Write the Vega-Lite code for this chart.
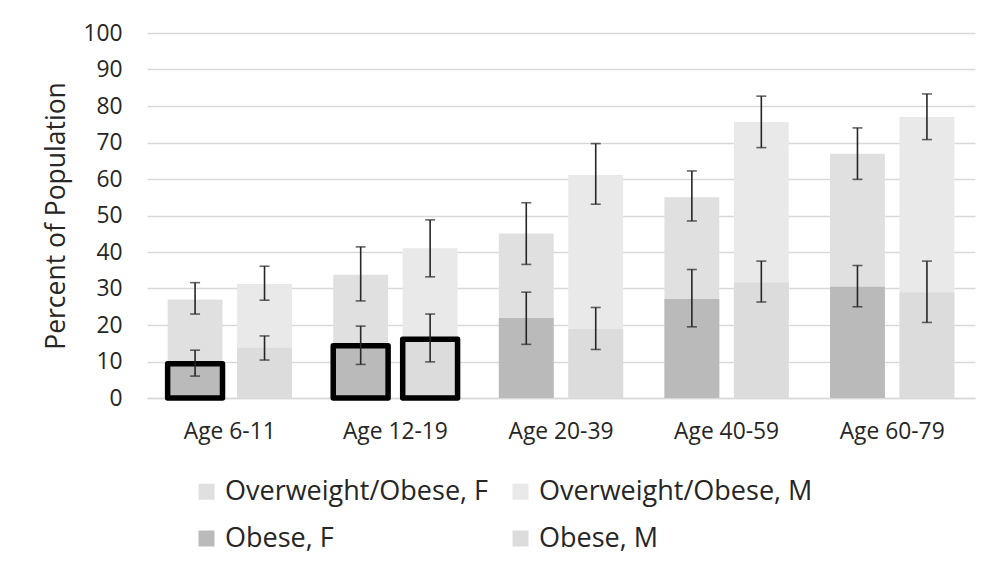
{
  "$schema": "https://vega.github.io/schema/vega-lite/v6.json",
  "width": 828,
  "height": 365,
  "autosize": {"type": "none"},
  "padding": {"left": 147, "top": 33, "right": 10, "bottom": 173},
  "background": "white",
  "config": {
    "view": {"stroke": null},
    "font": "Open Sans",
    "axisY": {
      "tickCount": 11,
      "labelOverlap": false,
      "domain": false, "ticks": false,
      "gridColor": "#d9d9d9", "gridWidth": 1.5,
      "labelFontSize": 22.8, "labelColor": "#262626", "labelPadding": 25,
      "titleFontSize": 26.5, "titleFontWeight": "normal", "titleColor": "#262626", "titlePadding": 12
    }
  },
  "data": {"values": [
    {"age": "Age 6-11", "sex": "F", "measure": "OW", "series": "Overweight/Obese, F", "value": 27.0, "lo": 23.0, "hi": 31.6, "outlined": false},
    {"age": "Age 6-11", "sex": "M", "measure": "OW", "series": "Overweight/Obese, M", "value": 31.2, "lo": 26.8, "hi": 36.1, "outlined": false},
    {"age": "Age 6-11", "sex": "F", "measure": "Ob", "series": "Obese, F", "value": 9.4, "lo": 6.0, "hi": 13.1, "outlined": true},
    {"age": "Age 6-11", "sex": "M", "measure": "Ob", "series": "Obese, M", "value": 13.8, "lo": 10.4, "hi": 17.0, "outlined": false},
    {"age": "Age 12-19", "sex": "F", "measure": "OW", "series": "Overweight/Obese, F", "value": 33.8, "lo": 26.6, "hi": 41.4, "outlined": false},
    {"age": "Age 12-19", "sex": "M", "measure": "OW", "series": "Overweight/Obese, M", "value": 41.0, "lo": 33.2, "hi": 48.8, "outlined": false},
    {"age": "Age 12-19", "sex": "F", "measure": "Ob", "series": "Obese, F", "value": 14.3, "lo": 9.2, "hi": 19.7, "outlined": true},
    {"age": "Age 12-19", "sex": "M", "measure": "Ob", "series": "Obese, M", "value": 16.1, "lo": 9.9, "hi": 23.0, "outlined": true},
    {"age": "Age 20-39", "sex": "F", "measure": "OW", "series": "Overweight/Obese, F", "value": 45.1, "lo": 36.6, "hi": 53.5, "outlined": false},
    {"age": "Age 20-39", "sex": "M", "measure": "OW", "series": "Overweight/Obese, M", "value": 61.1, "lo": 53.1, "hi": 69.7, "outlined": false},
    {"age": "Age 20-39", "sex": "F", "measure": "Ob", "series": "Obese, F", "value": 21.9, "lo": 14.7, "hi": 29.0, "outlined": false},
    {"age": "Age 20-39", "sex": "M", "measure": "Ob", "series": "Obese, M", "value": 18.9, "lo": 13.3, "hi": 24.8, "outlined": false},
    {"age": "Age 40-59", "sex": "F", "measure": "OW", "series": "Overweight/Obese, F", "value": 55.0, "lo": 48.5, "hi": 62.2, "outlined": false},
    {"age": "Age 40-59", "sex": "M", "measure": "OW", "series": "Overweight/Obese, M", "value": 75.6, "lo": 68.6, "hi": 82.7, "outlined": false},
    {"age": "Age 40-59", "sex": "F", "measure": "Ob", "series": "Obese, F", "value": 27.1, "lo": 19.5, "hi": 35.2, "outlined": false},
    {"age": "Age 40-59", "sex": "M", "measure": "Ob", "series": "Obese, M", "value": 31.6, "lo": 26.3, "hi": 37.5, "outlined": false},
    {"age": "Age 60-79", "sex": "F", "measure": "OW", "series": "Overweight/Obese, F", "value": 66.9, "lo": 59.9, "hi": 74.0, "outlined": false},
    {"age": "Age 60-79", "sex": "M", "measure": "OW", "series": "Overweight/Obese, M", "value": 77.0, "lo": 70.8, "hi": 83.3, "outlined": false},
    {"age": "Age 60-79", "sex": "F", "measure": "Ob", "series": "Obese, F", "value": 30.5, "lo": 25.0, "hi": 36.3, "outlined": false},
    {"age": "Age 60-79", "sex": "M", "measure": "Ob", "series": "Obese, M", "value": 28.9, "lo": 20.7, "hi": 37.5, "outlined": false}
  ]},
  "encoding": {
    "x": {
      "field": "age", "type": "nominal",
      "sort": ["Age 6-11", "Age 12-19", "Age 20-39", "Age 40-59", "Age 60-79"],
      "scale": {"paddingInner": 0, "paddingOuter": 0},
      "axis": {
        "title": null, "labelAngle": 0, "ticks": false,
        "domain": true, "domainColor": "#d9d9d9", "domainWidth": 1.5,
        "labelFontSize": 22.8, "labelColor": "#262626", "labelPadding": 22
      }
    },
    "xOffset": {
      "field": "sex", "type": "nominal", "sort": ["F", "M"],
      "scale": {"paddingInner": 0.21, "paddingOuter": 0.297}
    }
  },
  "layer": [
    {
      "transform": [{"filter": "datum.measure === 'OW'"}],
      "mark": {"type": "bar"},
      "encoding": {
        "y": {
          "field": "value", "type": "quantitative", "stack": null,
          "scale": {"domain": [0, 100]},
          "axis": {"values": [0, 10, 20, 30, 40, 50, 60, 70, 80, 90, 100], "title": "Percent of Population"}
        },
        "color": {
          "field": "series", "type": "nominal",
          "scale": {
            "domain": ["Overweight/Obese, F", "Obese, F", "Overweight/Obese, M", "Obese, M"],
            "range": ["#e0e0e0", "#bababa", "#e9e9e9", "#dcdcdc"]
          },
          "legend": {
            "title": null, "orient": "none", "legendX": 46, "legendY": 445,
            "columns": 2, "columnPadding": 19, "rowPadding": 19,
            "symbolType": "square", "symbolSize": 256, "symbolStrokeWidth": 0,
            "labelFontSize": 27, "labelColor": "#262626", "labelOffset": 5,
            "gridAlign": "each", "labelLimit": 400
          }
        }
      }
    },
    {
      "transform": [{"filter": "datum.measure === 'Ob'"}],
      "mark": {"type": "bar", "strokeJoin": "round"},
      "encoding": {
        "y": {"field": "value", "type": "quantitative", "stack": null,
          "axis": {"values": [0, 10, 20, 30, 40, 50, 60, 70, 80, 90, 100], "title": "Percent of Population"}},
        "color": {"field": "series", "type": "nominal"},
        "stroke": {"condition": {"test": "datum.outlined", "value": "#000000"}, "value": "transparent"},
        "strokeWidth": {"value": 5.5}
      }
    },
    {
      "mark": {"type": "rule", "color": "#262626", "strokeWidth": 1.6},
      "encoding": {
        "y": {"field": "lo", "type": "quantitative",
          "axis": {"values": [0, 10, 20, 30, 40, 50, 60, 70, 80, 90, 100], "title": "Percent of Population"}},
        "y2": {"field": "hi"}
      }
    },
    {
      "mark": {"type": "tick", "color": "#262626", "thickness": 1.6, "size": 10},
      "encoding": {"y": {"field": "lo", "type": "quantitative",
        "axis": {"values": [0, 10, 20, 30, 40, 50, 60, 70, 80, 90, 100], "title": "Percent of Population"}}}
    },
    {
      "mark": {"type": "tick", "color": "#262626", "thickness": 1.6, "size": 10},
      "encoding": {"y": {"field": "hi", "type": "quantitative",
        "axis": {"values": [0, 10, 20, 30, 40, 50, 60, 70, 80, 90, 100], "title": "Percent of Population"}}}
    }
  ]
}
